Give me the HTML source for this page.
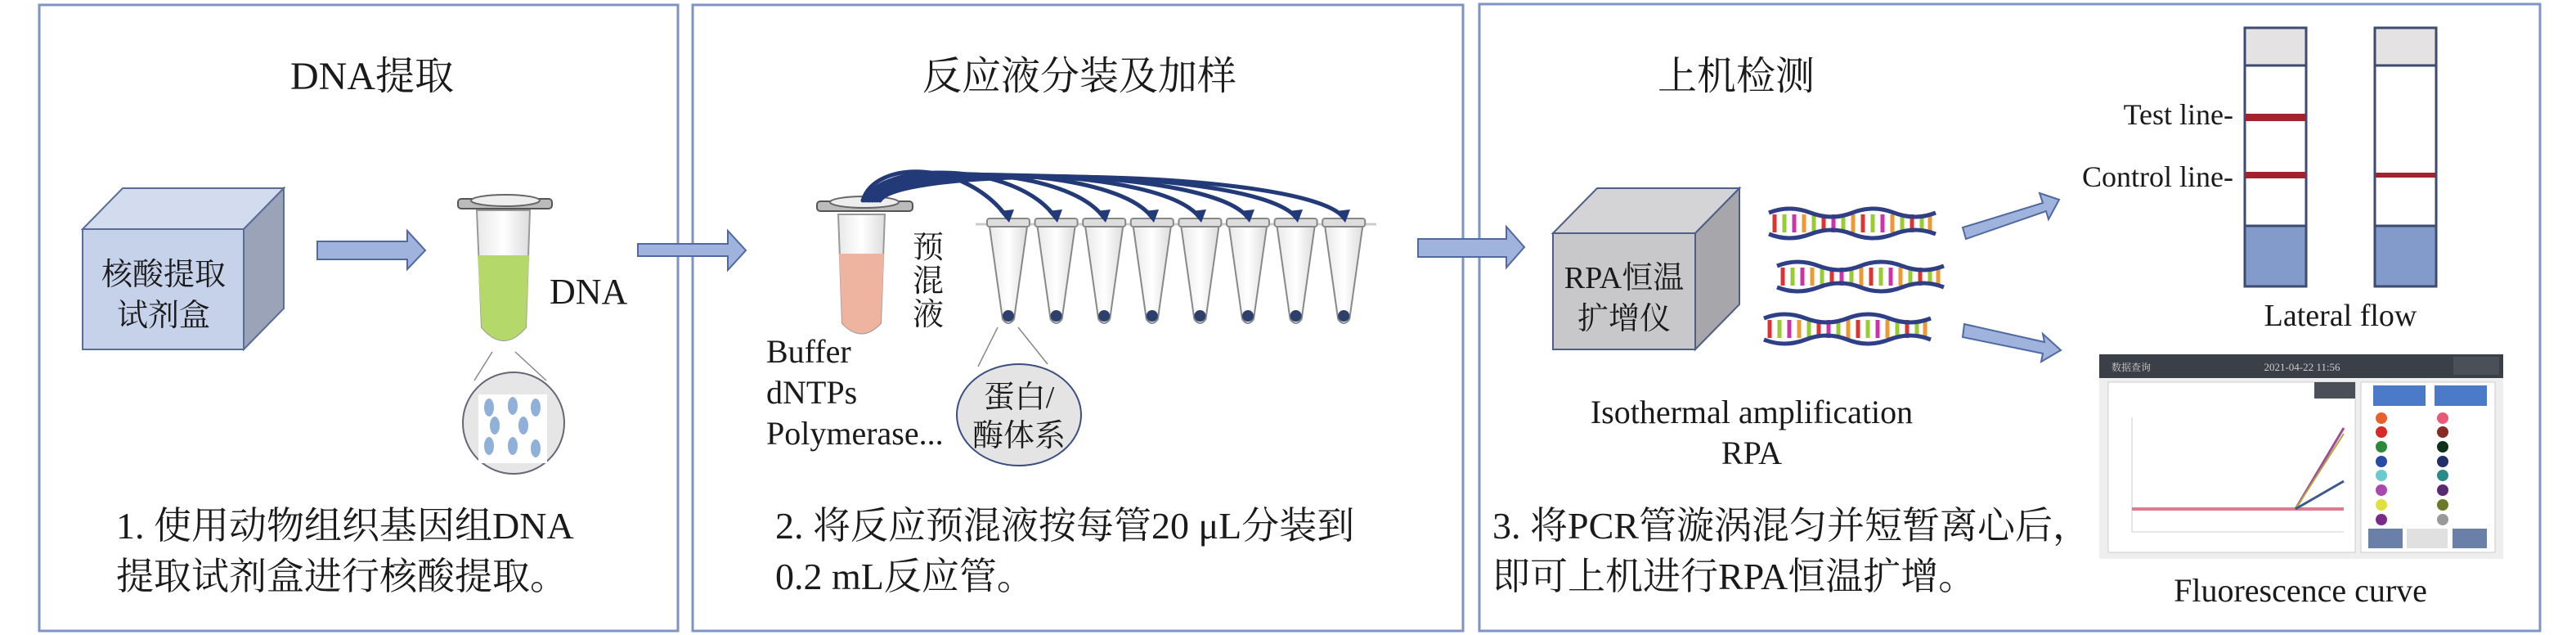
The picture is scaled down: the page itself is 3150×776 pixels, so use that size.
<!DOCTYPE html>
<html><head><meta charset="utf-8"><style>
html,body{margin:0;padding:0;background:#fff;}
svg{display:block;}
svg text{font-family:"Liberation Serif","Times New Roman","Noto Serif CJK SC","Noto Sans CJK SC",serif;fill:#1a1a1a;}
</style></head><body>
<svg width="3150" height="776" viewBox="0 0 3150 776" xmlns="http://www.w3.org/2000/svg" font-family="Liberation Serif, Noto Serif CJK SC, serif">
<defs>
<linearGradient id="tubeg" x1="0" x2="1"><stop offset="0" stop-color="#e8e8e8"/><stop offset="0.5" stop-color="#fff"/><stop offset="1" stop-color="#dcdcdc"/></linearGradient>
</defs>
<rect x="48" y="6" width="781" height="765" fill="none" stroke="#7e95c4" stroke-width="3"/>
<rect x="847" y="6" width="942" height="765" fill="none" stroke="#7e95c4" stroke-width="3"/>
<rect x="1809" y="5" width="1297" height="766" fill="none" stroke="#7e95c4" stroke-width="3"/>

<text x="455" y="109" font-size="48" text-anchor="middle">DNA提取</text>
<text x="1320" y="109" font-size="48" text-anchor="middle">反应液分装及加样</text>
<text x="2123" y="109" font-size="48" text-anchor="middle">上机检测</text>

<polygon points="101,280 150,230 347,230 298,280" fill="#d3dbee" stroke="#5a6d96" stroke-width="2"/>
<polygon points="298,280 347,230 347,377 298,427" fill="#9aa3b8" stroke="#5a6d96" stroke-width="2"/>
<rect x="101" y="280" width="197" height="147" fill="#c6d1ea" stroke="#5a6d96" stroke-width="2"/>
<text x="200" y="348" font-size="38" text-anchor="middle">核酸提取</text>
<text x="200" y="398" font-size="38" text-anchor="middle">试剂盒</text>

<polygon points="388,295 498,295 498,282 520,306 498,329 498,317 388,317" fill="#9fb3dc" stroke="#4f6aa3" stroke-width="2"/>
<polygon points="780,298 890,298 890,282 912,306 890,330 890,313 780,313" fill="#9fb3dc" stroke="#4f6aa3" stroke-width="2"/>
<polygon points="1734,292 1842,292 1842,277 1864,302 1842,327 1842,314 1734,314" fill="#9fb3dc" stroke="#4f6aa3" stroke-width="2"/>

<rect x="560" y="243" width="115" height="12" rx="4" fill="#bbb" stroke="#555" stroke-width="2"/>
<ellipse cx="618" cy="245" rx="42" ry="7" fill="#eee" stroke="#666" stroke-width="2"/>
<path d="M583,257 L648,257 L643,400 Q616,432 589,400 Z" fill="url(#tubeg)" stroke="#999" stroke-width="2"/>
<path d="M584,312 L647,312 L643,400 Q616,432 589,400 Z" fill="#b5d86a"/>
<text x="672" y="371" font-size="44">DNA</text>
<line x1="602" y1="430" x2="580" y2="465" stroke="#888" stroke-width="1.5"/>
<line x1="630" y1="430" x2="668" y2="465" stroke="#888" stroke-width="1.5"/>
<circle cx="628" cy="517" r="62" fill="#e6e6e6" stroke="#667" stroke-width="2"/>
<rect x="585" y="482" width="84" height="84" fill="#fff"/>
<g fill="#8fb0d8">
<ellipse cx="598" cy="498" rx="6" ry="11"/><ellipse cx="627" cy="496" rx="6" ry="11"/><ellipse cx="655" cy="498" rx="6" ry="11"/>
<ellipse cx="605" cy="520" rx="6" ry="11"/><ellipse cx="640" cy="520" rx="6" ry="11"/>
<ellipse cx="598" cy="545" rx="6" ry="11"/><ellipse cx="627" cy="545" rx="6" ry="11"/><ellipse cx="655" cy="548" rx="6" ry="11"/>
</g>

<text x="142" y="658" font-size="46">1. 使用动物组织基因组DNA</text>
<text x="142" y="720" font-size="46">提取试剂盒进行核酸提取。</text>
<text x="948" y="658" font-size="46">2. 将反应预混液按每管20 μL分装到</text>
<text x="948" y="720" font-size="46">0.2 mL反应管。</text>
<text x="1825" y="658" font-size="46">3. 将PCR管漩涡混匀并短暂离心后，</text>
<text x="1825" y="720" font-size="46">即可上机进行RPA恒温扩增。</text>

<rect x="999" y="246" width="117" height="12" rx="4" fill="#bbb" stroke="#555" stroke-width="2"/>
<ellipse cx="1057" cy="247" rx="42" ry="7" fill="#eee" stroke="#666" stroke-width="2"/>
<path d="M1025,262 L1082,262 L1077,395 Q1053,420 1030,395 Z" fill="url(#tubeg)" stroke="#999" stroke-width="2"/>
<path d="M1026,310 L1081,310 L1077,395 Q1053,420 1030,395 Z" fill="#eeb4a0"/>
<text x="1116" y="315" font-size="38">预</text>
<text x="1116" y="356" font-size="38">混</text>
<text x="1116" y="397" font-size="38">液</text>
<text x="937" y="443" font-size="40">Buffer</text>
<text x="937" y="493" font-size="40">dNTPs</text>
<text x="937" y="543" font-size="40">Polymerase...</text>

<line x1="1193" y1="274" x2="1683" y2="274" stroke="#ccc" stroke-width="3"/>
<g stroke="#888" stroke-width="2" fill="url(#tubeg)">
<g id="t"><rect x="1207" y="267" width="52" height="10" rx="3" fill="#ddd"/><path d="M1210,277 L1256,277 L1240,390 Q1233,400 1226,390 Z"/></g>
<use href="#t" x="58.6"/><use href="#t" x="117.2"/><use href="#t" x="175.8"/><use href="#t" x="234.4"/><use href="#t" x="293"/><use href="#t" x="351.6"/><use href="#t" x="410.2"/>
</g>
<g fill="#2d3f6b">
<circle cx="1233" cy="386" r="7"/><circle cx="1291.6" cy="386" r="7"/><circle cx="1350.2" cy="386" r="7"/><circle cx="1408.8" cy="386" r="7"/><circle cx="1467.4" cy="386" r="7"/><circle cx="1526" cy="386" r="7"/><circle cx="1584.6" cy="386" r="7"/><circle cx="1643.2" cy="386" r="7"/>
</g>
<g fill="none" stroke="#233a78" stroke-width="5" stroke-linecap="round">
<path d="M1055,245 C1070,195 1180,195 1232,266"/>
<path d="M1058,245 C1075,198 1240,195 1291,266"/>
<path d="M1061,245 C1080,200 1300,198 1350,266"/>
<path d="M1064,245 C1085,200 1360,200 1409,266"/>
<path d="M1067,245 C1090,200 1420,202 1467,266"/>
<path d="M1070,245 C1095,200 1480,204 1526,266"/>
<path d="M1073,245 C1100,200 1540,206 1585,266"/>
<path d="M1076,245 C1105,200 1600,208 1643,266"/>
</g>
<g fill="#233a78">
<polygon points="1222,258 1240,256 1234,272"/><polygon points="1281,258 1299,256 1293,272"/><polygon points="1340,258 1358,256 1352,272"/><polygon points="1399,258 1417,256 1411,272"/><polygon points="1457,258 1475,256 1469,272"/><polygon points="1516,258 1534,256 1528,272"/><polygon points="1575,258 1593,256 1587,272"/><polygon points="1633,258 1651,256 1645,272"/>
</g>
<line x1="1220" y1="400" x2="1196" y2="448" stroke="#888" stroke-width="1.5"/>
<line x1="1245" y1="400" x2="1281" y2="445" stroke="#888" stroke-width="1.5"/>
<ellipse cx="1246" cy="507" rx="76" ry="62" fill="#e4e4e4" stroke="#3a4f80" stroke-width="2"/>
<text x="1246" y="498" font-size="38" text-anchor="middle">蛋白/</text>
<text x="1246" y="545" font-size="38" text-anchor="middle">酶体系</text>

<polygon points="1899,285 1953,230 2127,230 2073,285" fill="#d4d4d6" stroke="#4f5e86" stroke-width="2"/>
<polygon points="2073,285 2127,230 2127,372 2073,427" fill="#a7a7ab" stroke="#4f5e86" stroke-width="2"/>
<rect x="1899" y="285" width="174" height="142" fill="#c8c8cb" stroke="#4f5e86" stroke-width="2"/>
<text x="1986" y="352" font-size="38" text-anchor="middle">RPA恒温</text>
<text x="1986" y="402" font-size="38" text-anchor="middle">扩增仪</text>

<g id="dna">
<g stroke-width="5">
<line x1="2170" y1="262" x2="2170" y2="284" stroke="#d33"/><line x1="2182" y1="262" x2="2182" y2="284" stroke="#9c3"/><line x1="2194" y1="262" x2="2194" y2="284" stroke="#c3a"/><line x1="2206" y1="262" x2="2206" y2="284" stroke="#e93"/><line x1="2218" y1="262" x2="2218" y2="284" stroke="#9c3"/><line x1="2230" y1="262" x2="2230" y2="284" stroke="#d33"/><line x1="2242" y1="262" x2="2242" y2="284" stroke="#c3a"/><line x1="2254" y1="262" x2="2254" y2="284" stroke="#9c3"/><line x1="2266" y1="262" x2="2266" y2="284" stroke="#e93"/><line x1="2278" y1="262" x2="2278" y2="284" stroke="#d33"/><line x1="2290" y1="262" x2="2290" y2="284" stroke="#9c3"/><line x1="2302" y1="262" x2="2302" y2="284" stroke="#c3a"/><line x1="2314" y1="262" x2="2314" y2="284" stroke="#e93"/><line x1="2326" y1="262" x2="2326" y2="284" stroke="#9c3"/><line x1="2338" y1="262" x2="2338" y2="284" stroke="#d33"/><line x1="2350" y1="262" x2="2350" y2="284" stroke="#9c3"/><line x1="2360" y1="262" x2="2360" y2="284" stroke="#e93"/>
</g>
<path d="M2163,260 Q2188,250 2214,260 T2265,260 T2316,260 T2367,260" fill="none" stroke="#2f3f86" stroke-width="5"/>
<path d="M2163,286 Q2188,296 2214,286 T2265,286 T2316,286 T2367,286" fill="none" stroke="#2f3f86" stroke-width="5"/>
</g>
<use href="#dna" x="10" y="65"/>
<use href="#dna" x="-6" y="129"/>

<polygon points="2400,278 2498,248 2494,236 2518,244 2505,268 2502,258 2404,292" fill="#9fb3dc" stroke="#4f6aa3" stroke-width="2"/>
<polygon points="2402,396 2500,418 2498,408 2520,428 2496,442 2498,432 2400,412" fill="#9fb3dc" stroke="#4f6aa3" stroke-width="2"/>

<text x="2142" y="517" font-size="40" text-anchor="middle">Isothermal amplification</text>
<text x="2142" y="567" font-size="40" text-anchor="middle">RPA</text>

<g stroke="#3d4b70" stroke-width="3">
<rect x="2745" y="34" width="75" height="316" fill="#fff"/>
<rect x="2745" y="34" width="75" height="46" fill="#e4e2e2"/>
<rect x="2745" y="276" width="75" height="74" fill="#839bcb"/>
<rect x="2904" y="34" width="75" height="316" fill="#fff"/>
<rect x="2904" y="34" width="75" height="46" fill="#e4e2e2"/>
<rect x="2904" y="276" width="75" height="74" fill="#839bcb"/>
</g>
<rect x="2746" y="139" width="73" height="9" fill="#a3222e"/>
<rect x="2746" y="210" width="73" height="8" fill="#a3222e"/>
<rect x="2905" y="211" width="73" height="6" fill="#a3222e"/>
<text x="2731" y="152" font-size="36" text-anchor="end">Test line-</text>
<text x="2731" y="228" font-size="36" text-anchor="end">Control line-</text>
<text x="2862" y="398" font-size="38" text-anchor="middle">Lateral flow</text>

<rect x="2567" y="433" width="494" height="250" fill="#eeeeee"/>
<rect x="2567" y="433" width="494" height="29" fill="#3b3f47"/>
<text x="2582" y="453" font-size="12" style="fill:#ccc">数据查询</text>
<text x="2815" y="453" font-size="13" text-anchor="middle" style="fill:#ccc">2021-04-22 11:56</text>
<rect x="3000" y="436" width="56" height="22" fill="#4a4f58"/>
<rect x="2578" y="467" width="302" height="208" fill="#fff" stroke="#ccc"/>
<rect x="2830" y="467" width="50" height="20" fill="#4a4f58"/>
<rect x="2887" y="467" width="164" height="208" fill="#fff" stroke="#ccc"/>
<rect x="2902" y="471" width="64" height="25" fill="#4a7ac8"/>
<rect x="2977" y="471" width="64" height="25" fill="#4a7ac8"/>
<line x1="2607" y1="510" x2="2607" y2="650" stroke="#ccc"/>
<line x1="2607" y1="650" x2="2866" y2="650" stroke="#ccc"/>
<line x1="2607" y1="622" x2="2866" y2="622" stroke="#e07a90" stroke-width="4"/>
<path d="M2807,622 L2866,523" stroke="#a04a9a" stroke-width="3" fill="none"/>
<path d="M2807,622 L2866,530" stroke="#b5a83a" stroke-width="2" fill="none"/>
<path d="M2807,622 L2866,588" stroke="#3a5a8a" stroke-width="3" fill="none"/>
<g>
<circle cx="2912" cy="511" r="7" fill="#e8602a"/><circle cx="2987" cy="511" r="7" fill="#e85a78"/>
<circle cx="2912" cy="528" r="7" fill="#d82828"/><circle cx="2987" cy="528" r="7" fill="#8a2a24"/>
<circle cx="2912" cy="546" r="7" fill="#2a8a3a"/><circle cx="2987" cy="546" r="7" fill="#10301a"/>
<circle cx="2912" cy="564" r="7" fill="#2a4aa8"/><circle cx="2987" cy="564" r="7" fill="#22306a"/>
<circle cx="2912" cy="581" r="7" fill="#6acad0"/><circle cx="2987" cy="581" r="7" fill="#2a8a88"/>
<circle cx="2912" cy="599" r="7" fill="#a848b0"/><circle cx="2987" cy="599" r="7" fill="#5a2a70"/>
<circle cx="2912" cy="617" r="7" fill="#e0e040"/><circle cx="2987" cy="617" r="7" fill="#6a7a2a"/>
<circle cx="2912" cy="635" r="7" fill="#7a2a8a"/><circle cx="2987" cy="635" r="7" fill="#999"/>
</g>
<rect x="2896" y="646" width="42" height="24" fill="#6a80a8"/>
<rect x="2943" y="646" width="50" height="24" fill="#e0e0e0"/>
<rect x="2999" y="646" width="42" height="24" fill="#6a80a8"/>
<text x="2813" y="735" font-size="40" text-anchor="middle">Fluorescence curve</text>
</svg>
</body></html>
